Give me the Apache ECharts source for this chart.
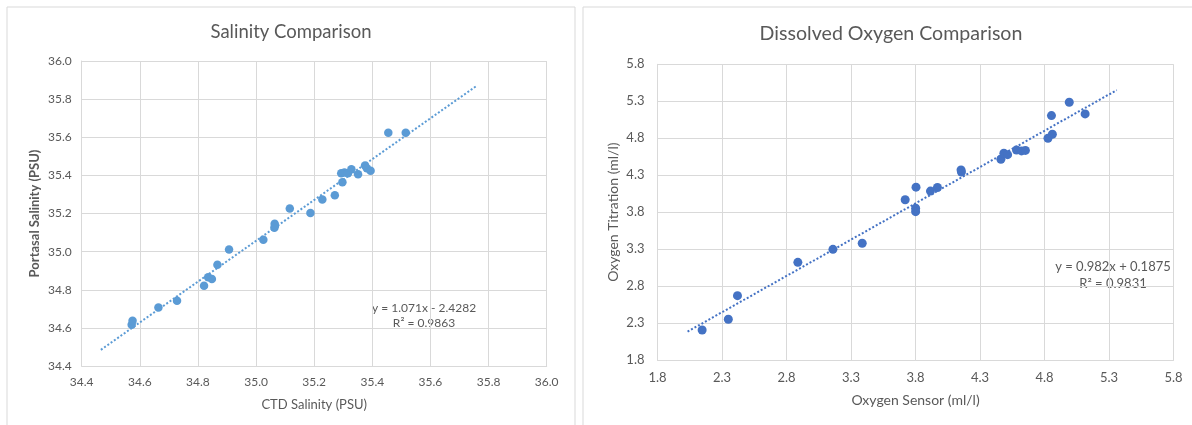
<!DOCTYPE html>
<html>
<head>
<meta charset="utf-8">
<script src="https://cdn.jsdelivr.net/npm/echarts@6/dist/echarts.min.js"></script>
<style>
html,body{margin:0;padding:0;background:#fff;}
#c{width:1192px;height:425px;}
</style>
</head>
<body>
<div id="c"></div>
<script>
// ---- Salinity data (CTD vs Portasal) ----
var salCTD = [34.572, 34.575, 34.664, 34.728, 34.821, 34.835, 34.848, 34.867, 34.907, 35.025,
              35.063, 35.064, 35.065, 35.116, 35.187, 35.228, 35.271, 35.297, 35.293, 35.304,
              35.316, 35.328, 35.351, 35.375, 35.381, 35.394, 35.455, 35.515];
var salPortasal = [34.617, 34.638, 34.707, 34.742, 34.821, 34.866, 34.856, 34.931, 35.011, 35.062,
                   35.125, 35.146, 35.136, 35.226, 35.202, 35.273, 35.296, 35.364, 35.411, 35.415,
                   35.411, 35.432, 35.406, 35.452, 35.438, 35.424, 35.624, 35.624];
var salTrendCoef = [1.071, -2.4282];
var salTrendX = [34.466, 35.761];
var salEquation = ['y = 1.071x - 2.4282', 'R\u00b2 = 0.9863'];
var salTicks = [34.4, 34.6, 34.8, 35.0, 35.2, 35.4, 35.6, 35.8, 36.0];
var salTitle = 'Salinity Comparison';

// ---- Dissolved oxygen data (sensor vs titration) ----
var oxSensor = [2.146, 2.349, 2.420, 2.888, 3.160, 3.387, 3.720, 3.804, 3.801, 3.801,
                3.916, 3.970, 4.153, 4.156, 4.462, 4.485, 4.514, 4.583, 4.622, 4.652,
                4.827, 4.861, 4.854, 4.992, 5.115];
var oxTitration = [2.206, 2.352, 2.670, 3.121, 3.297, 3.380, 3.967, 4.138, 3.853, 3.807,
                   4.085, 4.133, 4.371, 4.343, 4.516, 4.597, 4.578, 4.641, 4.628, 4.635,
                   4.800, 4.854, 5.106, 5.287, 5.129];
var oxTrendCoef = [0.982, 0.1875];
var oxTrendX = [2.033, 5.36];
var oxEquation = ['y = 0.982x + 0.1875', 'R\u00b2 = 0.9831'];
var oxTicks = [1.8, 2.3, 2.8, 3.3, 3.8, 4.3, 4.8, 5.3, 5.8];
var oxTitle = 'Dissolved Oxygen Comparison';

function pairs(xs, ys){ return xs.map(function(x,i){ return [x, ys[i]]; }); }
function trend(xr, c){ return xr.map(function(x){ return [x, c[0]*x + c[1]]; }); }

var FONT = 'Lato, "Open Sans", sans-serif';
var GREY = '#595959';
var GRID = '#d9d9d9';

function xAxisCfg(gi, ticks, name, fs, nameGap, margin){
  return {
    type:'value', gridIndex:gi, min:ticks[0], max:ticks[ticks.length-1],
    interval: Math.round((ticks[1]-ticks[0])*10)/10,
    name:name, nameLocation:'middle', nameGap:nameGap,
    nameTextStyle:{color:GREY, fontSize:fs+1, fontFamily:FONT},
    axisLine:{show:true, lineStyle:{color:GRID, width:1}},
    axisTick:{show:false},
    axisLabel:{color:GREY, fontSize:fs, fontFamily:FONT, margin:margin,
      formatter:function(v){ return v.toFixed(1); }},
    splitLine:{show:true, lineStyle:{color:GRID, width:1}}
  };
}
function yAxisCfg(gi, ticks, name, fs, nameGap, margin, nameW){
  return {
    type:'value', gridIndex:gi, min:ticks[0], max:ticks[ticks.length-1],
    interval: Math.round((ticks[1]-ticks[0])*10)/10,
    name:name, nameLocation:'middle', nameGap:nameGap,
    nameTextStyle:{color:GREY, fontSize:fs+1, fontFamily:FONT, fontWeight:nameW},
    axisLine:{show:true, lineStyle:{color:GRID, width:1}},
    axisTick:{show:false},
    axisLabel:{color:GREY, fontSize:fs, fontFamily:FONT, margin:margin,
      formatter:function(v){ return v.toFixed(1); }},
    splitLine:{show:true, lineStyle:{color:GRID, width:1}}
  };
}

var chart = echarts.init(document.getElementById('c'), null, {renderer:'canvas'});
chart.setOption({
  backgroundColor:'#ffffff',
  animation:false,
  grid:[
    {left:81.7, top:61, width:465, height:305, outerBoundsMode:'none', containLabel:false},
    {left:657.5, top:64.3, width:516, height:295.7, outerBoundsMode:'none', containLabel:false}
  ],
  xAxis:[
    xAxisCfg(0, salTicks, 'CTD Salinity (PSU)', 12, 32, 10),
    xAxisCfg(1, oxTicks, 'Oxygen Sensor (ml/l)', 13, 33, 11)
  ],
  yAxis:[
    yAxisCfg(0, salTicks, 'Portasal Salinity (PSU)', 12, 40, 10, 'bold'),
    yAxisCfg(1, oxTicks, 'Oxygen Titration (ml/l)', 13, 37, 13, 'normal')
  ],
  graphic:[
    {type:'rect', silent:true, z:-10, shape:{x:7, y:7, width:568, height:430},
     style:{fill:'none', stroke:GRID, lineWidth:1}},
    {type:'rect', silent:true, z:-10, shape:{x:583, y:7, width:620, height:430},
     style:{fill:'none', stroke:GRID, lineWidth:1}},
    {type:'text', x:291, y:32, style:{text:salTitle, fill:GREY, font:'18.5px '+FONT, textAlign:'center', textVerticalAlign:'middle'}},
    {type:'text', x:891, y:34, style:{text:oxTitle, fill:GREY, font:'19.6px '+FONT, textAlign:'center', textVerticalAlign:'middle'}},
    {type:'text', x:424, y:308, style:{text:salEquation[0], fill:GREY, font:'12px '+FONT, textAlign:'center', textVerticalAlign:'middle'}},
    {type:'text', x:424, y:323, style:{text:salEquation[1], fill:GREY, font:'12px '+FONT, textAlign:'center', textVerticalAlign:'middle'}},
    {type:'text', x:1113, y:267, style:{text:oxEquation[0], fill:GREY, font:'13px '+FONT, textAlign:'center', textVerticalAlign:'middle'}},
    {type:'text', x:1113, y:284, style:{text:oxEquation[1], fill:GREY, font:'13px '+FONT, textAlign:'center', textVerticalAlign:'middle'}}
  ],
  series:[
    {type:'line', xAxisIndex:0, yAxisIndex:0, data:trend(salTrendX, salTrendCoef),
     symbol:'none', lineStyle:{color:'#5B9BD5', width:2, type:[2,2]}, z:2},
    {type:'scatter', xAxisIndex:0, yAxisIndex:0, data:pairs(salCTD, salPortasal),
     symbolSize:8.5, itemStyle:{color:'#5B9BD5', opacity:1}, z:3},
    {type:'line', xAxisIndex:1, yAxisIndex:1, data:trend(oxTrendX, oxTrendCoef),
     symbol:'none', lineStyle:{color:'#4472C4', width:2, type:[2,2]}, z:2},
    {type:'scatter', xAxisIndex:1, yAxisIndex:1, data:pairs(oxSensor, oxTitration),
     symbolSize:9, itemStyle:{color:'#4472C4', opacity:1}, z:3}
  ]
});
</script>
</body>
</html>
